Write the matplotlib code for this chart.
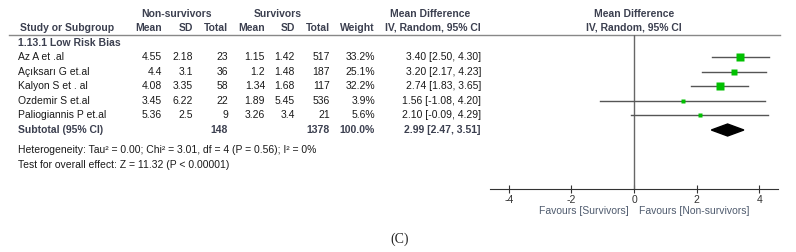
import numpy as np
import matplotlib.pyplot as plt

plt.rcParams['font.family'] = ['Liberation Sans', 'DejaVu Sans']
plt.rcParams['axes.unicode_minus'] = False

# data
studies = ['Az A et .al', 'Açıksarı G et.al', 'Kalyon S et . al', 'Ozdemir S et.al', 'Paliogiannis P et.al']
ns_mean = ['4.55', '4.4', '4.08', '3.45', '5.36']
ns_sd = ['2.18', '3.1', '3.35', '6.22', '2.5']
ns_total = [23, 36, 58, 22, 9]
s_mean = ['1.15', '1.2', '1.34', '1.89', '3.26']
s_sd = ['1.42', '1.48', '1.68', '5.45', '3.4']
s_total = [517, 187, 117, 536, 21]
weight = [33.2, 25.1, 32.2, 3.9, 5.6]
md = [3.40, 3.20, 2.74, 1.56, 2.10]
lo = [2.50, 2.17, 1.83, -1.08, -0.09]
hi = [4.30, 4.23, 3.65, 4.20, 4.29]
pooled = (2.99, 2.47, 3.51)
xticks = [-4, -2, 0, 2, 4]

hdr = '#3c4050'
txt = '#1a1a1a'
fs = 7.5

fig = plt.figure(figsize=(7.96, 2.52), dpi=100)
ax = fig.add_axes([0, 0, 1, 1])
ax.set_xlim(0, 796)
ax.set_ylim(252, 0)
ax.axis('off')

# headers
ax.text(177, 14, 'Non-survivors', ha='center', va='center', fontsize=fs, weight='bold', color=hdr)
ax.text(278, 14, 'Survivors', ha='center', va='center', fontsize=fs, weight='bold', color=hdr)
ax.text(430, 14, 'Mean Difference', ha='center', va='center', fontsize=fs, weight='bold', color=hdr)
ax.text(634, 14, 'Mean Difference', ha='center', va='center', fontsize=fs, weight='bold', color=hdr)
ax.text(20, 28, 'Study or Subgroup', ha='left', va='center', fontsize=fs, weight='bold', color=hdr)
cols = [(162, 'Mean'), (193, 'SD'), (228, 'Total'), (265, 'Mean'), (295, 'SD'), (330, 'Total'), (375, 'Weight'),
        (481, 'IV, Random, 95% CI')]
for x, lab in cols:
    ax.text(x, 28, lab, ha='right', va='center', fontsize=fs, weight='bold', color=hdr)
ax.text(634, 28, 'IV, Random, 95% CI', ha='center', va='center', fontsize=fs, weight='bold', color=hdr)
ax.plot([9, 780], [35, 35], color='#888888', lw=1)

ax.text(18, 43, '1.13.1 Low Risk Bias', ha='left', va='center', fontsize=fs, weight='bold', color=hdr)

row_y = 57 + 14.6 * np.arange(len(studies))
for i, y in enumerate(row_y):
    ax.text(18, y, studies[i], ha='left', va='center', fontsize=fs, color=txt)
    vals = [ns_mean[i], ns_sd[i], str(ns_total[i]), s_mean[i], s_sd[i], str(s_total[i]),
            f'{weight[i]:.1f}%', f'{md[i]:.2f} [{lo[i]:.2f}, {hi[i]:.2f}]']
    for (x, _), v in zip(cols, vals):
        ax.text(x, y, v, ha='right', va='center', fontsize=fs, color=txt)

sub_y = 130
ax.text(18, sub_y, 'Subtotal (95% CI)', ha='left', va='center', fontsize=fs, weight='bold', color=hdr)
ax.text(228, sub_y, str(sum(ns_total)), ha='right', va='center', fontsize=fs, weight='bold', color=hdr)
ax.text(330, sub_y, str(sum(s_total)), ha='right', va='center', fontsize=fs, weight='bold', color=hdr)
ax.text(375, sub_y, '100.0%', ha='right', va='center', fontsize=fs, weight='bold', color=hdr)
ax.text(481, sub_y, f'{pooled[0]:.2f} [{pooled[1]:.2f}, {pooled[2]:.2f}]', ha='right', va='center',
        fontsize=fs, weight='bold', color=hdr)
ax.text(18, 150, 'Heterogeneity: Tau² = 0.00; Chi² = 3.01, df = 4 (P = 0.56); I² = 0%', ha='left',
        va='center', fontsize=fs, color=txt)
ax.text(18, 165, 'Test for overall effect: Z = 11.32 (P < 0.00001)', ha='left', va='center',
        fontsize=fs, color=txt)

ax.text(629, 211, 'Favours [Survivors]', ha='right', va='center', fontsize=fs, color='#4f5b6e')
ax.text(639, 211, 'Favours [Non-survivors]', ha='left', va='center', fontsize=fs, color='#4f5b6e')
ax.text(400, 239, '(C)', ha='center', va='center', fontsize=10, family='Liberation Serif', color='#222222')

# forest panel
fx = fig.add_axes([490 / 796, (252 - 189) / 252, 288 / 796, (189 - 35) / 252])
fx.set_xlim(-4.6, 4.6)
fx.set_ylim(189, 35)
fx.patch.set_alpha(0)
for s in ['top', 'left', 'right']:
    fx.spines[s].set_visible(False)
fx.spines['bottom'].set_color('#333333')
fx.set_yticks([])
fx.set_xticks(xticks)
fx.tick_params(axis='x', direction='inout', length=6, width=0.8, labelsize=fs, pad=1, colors='#333333')
fx.axvline(0, color='#666666', lw=1)
for i, y in enumerate(row_y):
    fx.plot([lo[i], hi[i]], [y, y], color='#555555', lw=1)
    fx.plot(md[i], y, 's', color='#00c000', ms=max(2.3, 5.2 * np.sqrt(weight[i] / 33.2)), mec='none', zorder=3)
fx.fill([pooled[1], pooled[0], pooled[2], pooled[0]], [sub_y, sub_y - 6, sub_y, sub_y + 6], color='black')

fig.savefig('out.png', dpi=100)
